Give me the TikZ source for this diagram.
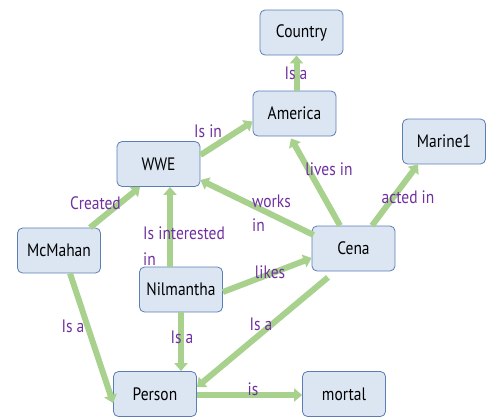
\documentclass[tikz,border=0pt]{standalone}
\usepackage{fontspec}
\setmainfont{PT Sans}[FakeStretch=0.86]
\usetikzlibrary{arrows.meta,calc}
\definecolor{boxfill}{HTML}{DCE6F2}
\definecolor{boxline}{HTML}{5B7DB5}
\definecolor{arr}{HTML}{A9D18E}
\definecolor{lab}{HTML}{7030A0}
\begin{document}
\begin{tikzpicture}[x=1pt,y=-1pt,
  box/.style={draw=boxline, fill=boxfill, rounded corners=5pt, minimum width=83pt,
    minimum height=45pt, inner sep=0pt, font=\fontsize{18}{20}\selectfont, text=black, line width=0.8pt},
  rel/.style={draw=arr, line width=6pt, -{Triangle[length=8pt,width=13pt]}},
  lbl/.style={text=lab, font=\fontsize{18}{20}\selectfont, inner sep=0pt, align=left}]
\useasboundingbox (0,0) rectangle (490,416);
% nodes
\node[box] (country) at (301.5,32.5) {Country};
\node[box] (america) at (294.5,113.5) {America};
\node[box] (wwe) at (158.5,164) {WWE};
\node[box] (marine) at (444,141.5) {Marine1};
\node[box] (mcmahan) at (59,250.5) {McMahan};
\node[box] (nil) at (181,289.5) {Nilmantha};
\node[box] (cena) at (353.5,248.5) {Cena};
\node[box] (person) at (155,394) {Person};
\node[box] (mortal) at (344,394) {mortal};
% connectors
\draw[rel] ($(america.north)+(2,0)$) -- ($(country.south)+(-5,0)$);
\draw[rel] ($(wwe.east)+(0,-9)$) -- ($(america.west)+(0,8)$);
\draw[rel] ($(cena.north)+(-13.5,0)$) -- ($(america.south)+(-3.5,2)$);
\draw[rel] ($(cena.north)+(18.5,0)$) -- ($(marine.south)+(-26,0)$);
\draw[rel] ($(cena.west)+(2,-13.5)$) -- ($(wwe.east)+(0,16)$);
\draw[rel] ($(mcmahan.north)+(31,0)$) -- ($(wwe.south)+(-18.5,0)$);
\draw[rel] ($(nil.north)+(-11,0)$) -- ($(wwe.south)+(11.5,0)$);
\draw[rel] ($(nil.east)+(0,2.5)$) -- ($(cena.west)+(0,9.5)$);
\draw[rel] (nil.south) -- ($(person.north)+(26,0)$);
\draw[rel] ($(mcmahan.south)+(11,0)$) -- ($(person.west)+(0,9)$);
\draw[rel] ($(cena.south)+(-25.5,6)$) -- ($(person.east)+(0,-7)$);
\draw[rel] ($(person.east)+(0,1)$) -- ($(mortal.west)+(0,1)$);
% labels
\node[lbl] (l1) at (296,73) {Is a};
\node[lbl] (l2) at (208,131) {Is in};
\node[lbl] (l3) at (329,169) {lives in};
\node[lbl] (l4) at (408,197) {acted in};
\node[lbl, anchor=west, font=\fontsize{18}{24}\selectfont] (l5) at (252,213) {works\\in};
\node[lbl] (l6) at (95.5,203) {Created};
\node[lbl, anchor=west, font=\fontsize{18}{26}\selectfont] (l7) at (143,246) {Is interested\\in};
\node[lbl] (l8) at (270,272) {likes};
\node[lbl] (l9) at (182,337) {Is a};
\node[lbl] (l10) at (73,326) {Is a};
\node[lbl] (l11) at (261,324) {Is a};
\node[lbl] (l12) at (253,389) {is};
\end{tikzpicture}
\end{document}
